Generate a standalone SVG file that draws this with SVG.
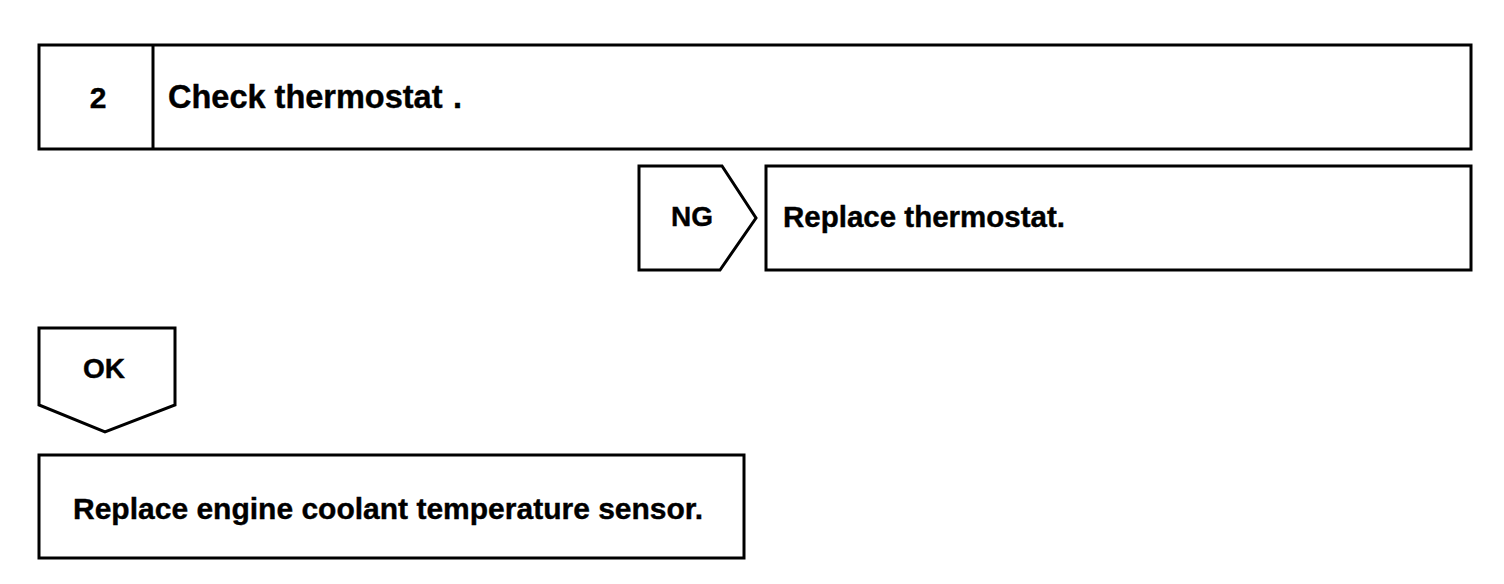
<svg xmlns="http://www.w3.org/2000/svg" width="1504" height="584" viewBox="0 0 1504 584">
<style>
.b{fill:#fff;stroke:#000;stroke-width:3;stroke-linejoin:miter}
.t{font-family:"Liberation Sans",Arial,sans-serif;font-weight:bold;font-size:29px;fill:#000;stroke:#000;stroke-width:0.4}
</style>
<rect width="1504" height="584" fill="#fff"/>
<g id="step2">
<rect class="b" x="39" y="45" width="1432" height="104"/>
<line class="b" x1="153" y1="45" x2="153" y2="149"/>
<text class="t" x="98" y="108" text-anchor="middle" style="font-size:30px">2</text>
<text class="t" x="168" y="108" style="font-size:32.5px">Check thermostat<tspan x="453">.</tspan></text>
</g>
<g id="ng">
<polygon class="b" points="639,166 722,166 756,218 720,270 639,270"/>
<text class="t" x="692" y="226" text-anchor="middle" style="font-size:28px">NG</text>
</g>
<g id="replace-thermostat">
<rect class="b" x="766" y="166" width="705" height="104"/>
<text class="t" x="783" y="227" style="font-size:29.5px">Replace thermostat.</text>
</g>
<g id="ok">
<polygon class="b" points="39,328 175,328 175,405 105,432 39,405"/>
<text class="t" x="104" y="378" text-anchor="middle" style="font-size:28px">OK</text>
</g>
<g id="replace-sensor">
<rect class="b" x="39" y="455" width="705" height="103"/>
<text class="t" x="73" y="519" style="font-size:30px">Replace engine coolant temperature sensor.</text>
</g>
<g id="connectors"></g>
</svg>
